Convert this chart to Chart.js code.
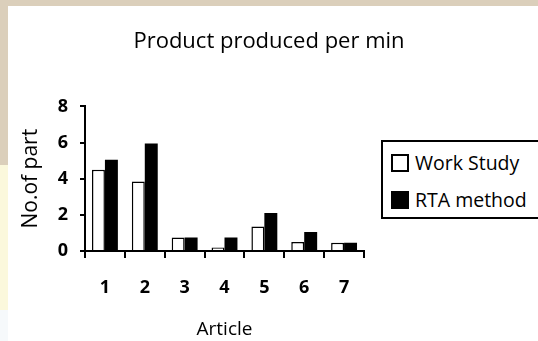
<!DOCTYPE html>
<html>
<head>
<meta charset="utf-8">
<script src="https://cdn.jsdelivr.net/npm/chart.js@4"></script>
<style>
  html, body { margin: 0; padding: 0; }
  body { width: 538px; height: 341px; position: relative; overflow: hidden; background: #dbcfbb; }
  #paper { position: absolute; left: 8px; top: 6px; right: 0; bottom: 0; background: #fff; }
  #strip { position: absolute; left: 0; top: 165px; width: 8px; height: 145px; background: #fbf8dc; }
  #strip2 { position: absolute; left: 0; top: 310px; width: 8px; bottom: 0; background: #f6f9fb; }
  #wrap { position: absolute; left: 0; top: 0; width: 538px; height: 341px; }
  #legend {
    position: absolute; left: 381px; top: 140px; width: 170px; height: 75px;
    border: 2px solid #000; background: #fff;
    font-family: "Open Sans", sans-serif; font-size: 19.5px; color: #000;
  }
  #legend .item { position: absolute; left: 8px; height: 22px; line-height: 22px; white-space: nowrap; }
  #legend .box { display: inline-block; width: 14px; height: 14px; border: 2px solid #000; vertical-align: -2px; margin-right: 6px; }
</style>
</head>
<body>
<div id="paper"></div>
<div id="strip"></div>
<div id="strip2"></div>
<div id="wrap"><canvas id="chart" width="538" height="341"></canvas></div>
<div id="legend"></div>
<script>
// データ
const articles = ['1', '2', '3', '4', '5', '6', '7'];
const workStudy = [4.5, 3.85, 0.75, 0.2, 1.35, 0.5, 0.45];
const rtaMethod = [5.05, 5.95, 0.75, 0.75, 2.1, 1.05, 0.45];
const seriesLabels = ['Work Study', 'RTA method'];
const yTicks = [0, 2, 4, 6, 8];

const fontFamily = '"Open Sans", sans-serif';

let ctx = document.getElementById('chart');
let chart = new Chart(ctx, {
  type: 'bar',
  data: {
    labels: articles,
    datasets: [{
      label: seriesLabels[0],
      data: workStudy,
      backgroundColor: '#fff',
      borderColor: '#000',
      borderWidth: 1.5
    }, {
      label: seriesLabels[1],
      data: rtaMethod,
      backgroundColor: '#000',
      borderColor: '#000',
      borderWidth: 0
    }]
  },
  options: {
    responsive: false,
    animation: false,
    categoryPercentage: 0.65,
    barPercentage: 1,
    layout: { padding: 0 },
    plugins: {
      legend: { display: false },
      tooltip: { enabled: false },
      title: {
        display: true,
        text: 'Product produced per min',
        color: '#000',
        font: { family: fontFamily, size: 22, weight: 'normal' },
        padding: { top: 29, bottom: 51 }
      }
    },
    scales: {
      x: {
        offset: true,
        grid: { display: true, drawOnChartArea: false, drawTicks: true, tickLength: 7, color: '#000', lineWidth: 2, offset: true },
        border: { display: true, color: '#000', width: 2 },
        ticks: { color: '#000', padding: 19, font: { family: fontFamily, size: 18, weight: 'bold' } },
        title: { display: true, text: 'Article', color: '#000', padding: { top: 0, bottom: 0 }, font: { family: fontFamily, size: 19 } },
        afterFit: function (s) { s.height = 90; }
      },
      y: {
        min: 0,
        max: 8,
        afterBuildTicks: function (s) { s.ticks = yTicks.map(v => ({ value: v })); },
        grid: { display: true, drawOnChartArea: false, drawTicks: true, tickLength: 5, color: '#000', lineWidth: 2 },
        border: { display: true, color: '#000', width: 2 },
        ticks: { color: '#000', padding: 12, font: { family: fontFamily, size: 18, weight: 'bold' } },
        title: { display: true, text: 'No.of part', color: '#000', padding: { top: 18, bottom: 0 }, font: { family: fontFamily, size: 21 } },
        afterFit: function (s) { s.width = 85; }
      },
      yR: {
        position: 'right',
        display: true,
        grid: { display: false },
        border: { display: false },
        ticks: { display: false },
        afterFit: function (s) { s.width = 174; }
      }
    }
  }
});

// 凡例（データセットのラベルから作成）
let legend = document.getElementById('legend');
chart.data.datasets.forEach((ds, i) => {
  let item = document.createElement('div');
  item.className = 'item';
  item.style.top = (i === 0 ? 10 : 47) + 'px';
  item.innerHTML = '<span class="box" style="background:' + ds.backgroundColor + '"></span>' + ds.label;
  legend.appendChild(item);
});
</script>
</body>
</html>
